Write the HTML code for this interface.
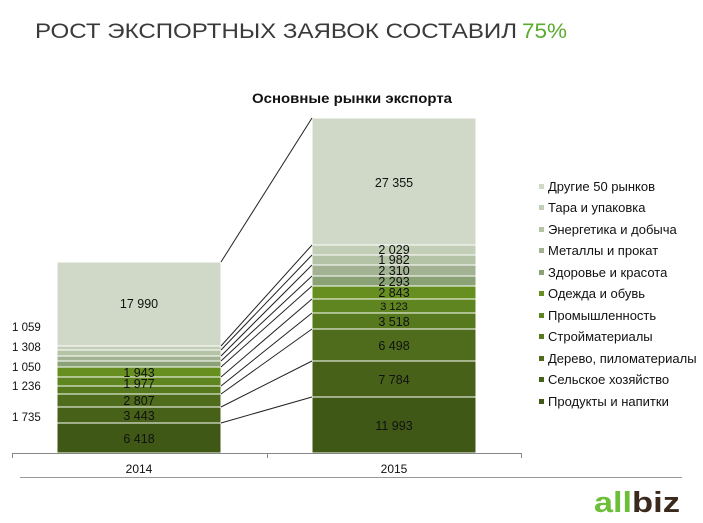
<!DOCTYPE html>
<html><head><meta charset="utf-8"><style>
html,body{margin:0;padding:0;background:#fff;}
svg{display:block;font-family:"Liberation Sans",sans-serif;}
</style></head><body>
<svg width="703" height="523" viewBox="0 0 703 523" xmlns="http://www.w3.org/2000/svg">
<text x="35" y="38" font-size="21" fill="#3a3a3a" textLength="482" lengthAdjust="spacingAndGlyphs">РОСТ ЭКСПОРТНЫХ ЗАЯВОК СОСТАВИЛ</text>
<text x="522" y="38" font-size="21" fill="#5aab2e" textLength="45" lengthAdjust="spacingAndGlyphs">75%</text>
<text x="352" y="103" font-size="14" font-weight="bold" fill="#111" text-anchor="middle" textLength="200" lengthAdjust="spacingAndGlyphs">Основные рынки  экспорта</text>
<g stroke="#fff" stroke-width="1">
<rect x="57" y="423" width="164" height="30" fill="#3f5816"/>
<rect x="57" y="407" width="164" height="16" fill="#476118"/>
<rect x="57" y="394" width="164" height="13" fill="#4e6c1b"/>
<rect x="57" y="386" width="164" height="8" fill="#56791d"/>
<rect x="57" y="377" width="164" height="9" fill="#5e851f"/>
<rect x="57" y="367" width="164" height="10" fill="#678f20"/>
<rect x="57" y="361" width="164" height="6" fill="#8aa276"/>
<rect x="57" y="356" width="164" height="5" fill="#a2b292"/>
<rect x="57" y="350" width="164" height="6" fill="#b4c2a6"/>
<rect x="57" y="346" width="164" height="4" fill="#c3ceb7"/>
<rect x="57" y="262" width="164" height="84" fill="#d0d9c8"/>
</g>
<g stroke="#fff" stroke-width="1">
<rect x="312" y="397" width="164" height="56" fill="#3f5816"/>
<rect x="312" y="361" width="164" height="36" fill="#476118"/>
<rect x="312" y="329" width="164" height="32" fill="#4e6c1b"/>
<rect x="312" y="313" width="164" height="16" fill="#56791d"/>
<rect x="312" y="299" width="164" height="14" fill="#5e851f"/>
<rect x="312" y="286" width="164" height="13" fill="#678f20"/>
<rect x="312" y="276" width="164" height="10" fill="#8aa276"/>
<rect x="312" y="265" width="164" height="11" fill="#a2b292"/>
<rect x="312" y="255" width="164" height="10" fill="#b4c2a6"/>
<rect x="312" y="245" width="164" height="10" fill="#c3ceb7"/>
<rect x="312" y="118" width="164" height="127" fill="#d0d9c8"/>
</g>
<g stroke="#222" stroke-width="1">
<line x1="221" y1="262" x2="312" y2="118"/>
<line x1="221" y1="346" x2="312" y2="245"/>
<line x1="221" y1="350" x2="312" y2="255"/>
<line x1="221" y1="356" x2="312" y2="265"/>
<line x1="221" y1="361" x2="312" y2="276"/>
<line x1="221" y1="367" x2="312" y2="286"/>
<line x1="221" y1="377" x2="312" y2="299"/>
<line x1="221" y1="386" x2="312" y2="313"/>
<line x1="221" y1="394" x2="312" y2="329"/>
<line x1="221" y1="407" x2="312" y2="361"/>
<line x1="221" y1="423" x2="312" y2="397"/>
</g>
<g stroke="#888" stroke-width="1">
<line x1="12" y1="453.5" x2="522" y2="453.5"/>
<line x1="12.5" y1="453" x2="12.5" y2="458"/>
<line x1="267.5" y1="453" x2="267.5" y2="458"/>
<line x1="521.5" y1="453" x2="521.5" y2="458"/>
<line x1="20" y1="477.5" x2="682" y2="477.5" stroke="#999"/>
</g>
<g font-size="12" fill="#111" text-anchor="middle">
<text x="139" y="473">2014</text>
<text x="394" y="473">2015</text>
</g>
<g font-size="12.5" fill="#111" text-anchor="middle">
<text x="139" y="308">17 990</text>
<text x="139" y="443">6 418</text>
<text x="139" y="420">3 443</text>
<text x="139" y="405">2 807</text>
<text x="139" y="388">1 977</text>
<text x="139" y="377">1 943</text>
<text x="394" y="187">27 355</text>
<text x="394" y="430">11 993</text>
<text x="394" y="384">7 784</text>
<text x="394" y="350">6 498</text>
<text x="394" y="326">3 518</text>
<text x="394" y="310" font-size="11">3 123</text>
<text x="394" y="297">2 843</text>
<text x="394" y="286">2 293</text>
<text x="394" y="275">2 310</text>
<text x="394" y="264">1 982</text>
<text x="394" y="254">2 029</text>
</g>
<g font-size="11.5" fill="#111">
<text x="12" y="331">1 059</text>
<text x="12" y="351">1 308</text>
<text x="12" y="371">1 050</text>
<text x="12" y="390">1 236</text>
<text x="12" y="421">1 735</text>
</g>
<g font-size="13" fill="#111">
<rect x="539" y="184" width="5" height="5" fill="#d0d9c8"/><text x="548" y="191">Другие 50 рынков</text>
<rect x="539" y="205" width="5" height="5" fill="#c3ceb7"/><text x="548" y="212">Тара и упаковка</text>
<rect x="539" y="227" width="5" height="5" fill="#b4c2a6"/><text x="548" y="234">Энергетика и добыча</text>
<rect x="539" y="248" width="5" height="5" fill="#a2b292"/><text x="548" y="255">Металлы и прокат</text>
<rect x="539" y="270" width="5" height="5" fill="#8aa276"/><text x="548" y="277">Здоровье и красота</text>
<rect x="539" y="291" width="5" height="5" fill="#678f20"/><text x="548" y="298">Одежда и обувь</text>
<rect x="539" y="313" width="5" height="5" fill="#5e851f"/><text x="548" y="320">Промышленность</text>
<rect x="539" y="334" width="5" height="5" fill="#56791d"/><text x="548" y="341">Стройматериалы</text>
<rect x="539" y="356" width="5" height="5" fill="#4e6c1b"/><text x="548" y="363">Дерево, пиломатериалы</text>
<rect x="539" y="377" width="5" height="5" fill="#476118"/><text x="548" y="384">Сельское хозяйство</text>
<rect x="539" y="399" width="5" height="5" fill="#3f5816"/><text x="548" y="406">Продукты и напитки</text>
</g>
<text x="594" y="512" font-size="29" font-weight="bold" fill="#6dbf3a" textLength="38" lengthAdjust="spacingAndGlyphs">all</text>
<text x="632" y="512" font-size="29" font-weight="bold" fill="#3b2a1c" textLength="48" lengthAdjust="spacingAndGlyphs">biz</text>
</svg>
</body></html>
